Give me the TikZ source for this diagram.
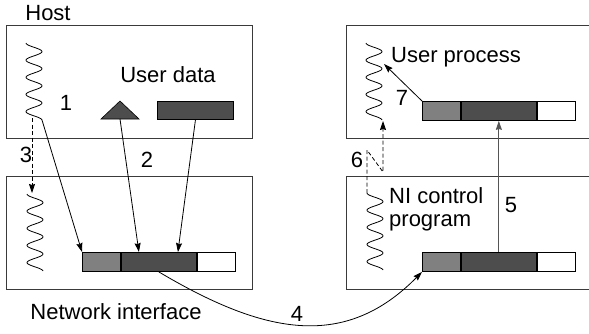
\documentclass[tikz,border=0pt]{standalone}
\usepackage{fontspec}
\setmainfont{Liberation Sans}
\usetikzlibrary{arrows.meta,calc}
\definecolor{midgray}{HTML}{808080}
\definecolor{darkfill}{HTML}{4D4D4D}
\definecolor{boxline}{HTML}{3A3A3A}
\definecolor{grayline}{HTML}{555555}
\begin{document}
\begin{tikzpicture}[x=1pt,y=-1pt,
  font=\fontsize{22}{23}\selectfont,
  box/.style={draw=boxline, line width=1.3pt, minimum width=246pt, minimum height=113pt, anchor=north west, inner sep=0pt},
  seg/.style={draw=black, line width=0.9pt, minimum height=19pt, inner sep=0pt, anchor=north west},
  conn/.style={line width=0.8pt, -{Stealth[length=9pt,width=6pt,inset=1pt]}},
  dashconn/.style={conn, dash pattern=on 4pt off 2.5pt},
  wig/.style={line width=0.8pt},
  lbl/.style={inner sep=0pt}
]
\clip (0,0) rectangle (589,333);
% boxes
\node[box] (host) at (6,25) {};
\node[box] (ni) at (6,176) {};
\node[box, minimum width=260pt] (uhost) at (346,25) {};
\node[box, minimum width=260pt] (uni) at (346,176) {};
% buffers
\node[seg, fill=midgray, minimum width=38pt] (la) at (82,252) {};
\node[seg, fill=darkfill, minimum width=75pt] (lb) at (la.north east) {};
\node[seg, fill=white, minimum width=38pt] (lc) at (lb.north east) {};
\node[seg, fill=midgray, minimum width=38pt] (ta) at (422,101) {};
\node[seg, fill=darkfill, minimum width=75pt] (tb) at (ta.north east) {};
\node[seg, fill=white, minimum width=38pt] (tc) at (tb.north east) {};
\node[seg, fill=midgray, minimum width=38pt] (ba) at (422,252) {};
\node[seg, fill=darkfill, minimum width=75pt] (bb) at (ba.north east) {};
\node[seg, fill=white, minimum width=38pt] (bc) at (bb.north east) {};
% user data
\node[seg, fill=darkfill, minimum width=76pt, minimum height=18pt] (udata) at (157,101) {};
\filldraw[fill=darkfill, draw=black, line width=0.6pt] (101,119) -- (120,101) -- (139,119) -- cycle;
\coordinate (tri) at (120,119);
% wiggles
\draw[wig] plot[domain=0:77, samples=100, smooth] ({34-8*cos(21*\x)}, {43+\x});
\draw[wig] plot[domain=0:77, samples=100, smooth] ({35-8*cos(21*\x)}, {194+\x});
\draw[wig] plot[domain=0:77, samples=100, smooth] ({374-8*cos(21*\x)}, {43+\x});
\draw[wig] plot[domain=0:77, samples=100, smooth] ({375-8*cos(21*\x)}, {193+\x});
\coordinate (w1e) at (42,120);
\coordinate (w1b) at (32,118);
\coordinate (w2t) at (32,193);
\coordinate (w3e) at (383,121);
\coordinate (w3m) at (384,64);
\coordinate (w4s) at (367,193);
\coordinate (k1) at (367,150);
\coordinate (k2) at (383,172);
% connectors
\draw[conn] (w1e) -- (la.north west);
\draw[conn] (tri) -- ($(lb.north west)+(18,0)$);
\draw[conn] (udata.south) -- ($(lb.north west)+(57,0)$);
\draw[dashconn] (w1b) -- (w2t);
\draw[conn] (lb.south) .. controls (265,335) and (345,350) .. (ba.south west);
\draw[conn, draw=grayline] (bb.north) -- (tb.south);
\draw[conn] (ta.north west) -- (w3m);
\draw[dashconn] (w4s) -- (k1) -- (k2) -- (w3e);
% labels
\node[lbl] (hostlbl) at (48,13) {Host};
\node[lbl] (udlbl) at (168,75) {User data};
\node[lbl] (n1) at (66,103) {1};
\node[lbl] (n2) at (147,160) {2};
\node[lbl] (n3) at (26,155) {3};
\node[lbl] (n4) at (297,314) {4};
\node[lbl] (n5) at (511,205) {5};
\node[lbl] (n6) at (357,160) {6};
\node[lbl] (n7) at (402,98) {7};
\node[lbl, anchor=base west] (uplbl) at (391,62) {User process};
\node[lbl, anchor=base west] (nilbl1) at (389,203) {NI control};
\node[lbl, anchor=base west] (nilbl2) at (389,226) {program};
\node[lbl] (netlbl) at (116,312) {Network interface};
\end{tikzpicture}
\end{document}
